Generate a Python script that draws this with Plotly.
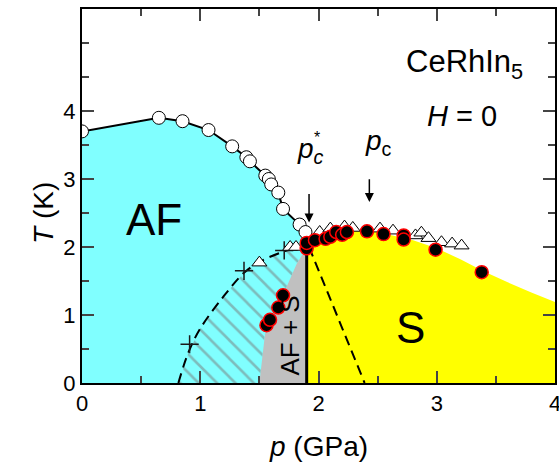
import plotly.graph_objects as go

# ---- data ----
af_p = [0.0, 0.65, 0.85, 1.07, 1.27, 1.39, 1.42, 1.55, 1.58, 1.60, 1.66, 1.70, 1.84, 1.89]
af_T = [3.70, 3.90, 3.85, 3.72, 3.48, 3.32, 3.26, 3.05, 3.00, 2.92, 2.80, 2.56, 2.33, 2.22]

sc_p = [1.56, 1.59, 1.66, 1.70, 1.90, 1.90, 1.97, 2.06, 2.10, 2.15, 2.20, 2.24, 2.41, 2.55, 2.72, 2.72, 2.99, 3.38]
sc_T = [0.85, 0.93, 1.11, 1.29, 1.98, 2.06, 2.10, 2.12, 2.15, 2.22, 2.18, 2.22, 2.23, 2.19, 2.17, 2.11, 1.96, 1.63]

tri_p = [1.50, 1.76, 1.81, 2.01, 2.10, 2.22, 2.29, 2.52, 2.63, 2.82, 2.87, 2.93, 3.04, 3.13, 3.21]
tri_T = [1.77, 2.00, 2.00, 2.22, 2.27, 2.30, 2.28, 2.27, 2.24, 2.17, 2.21, 2.13, 2.07, 2.05, 2.02]

plus_p = [0.91, 1.37, 1.71]
plus_T = [0.57, 1.65, 1.95]

# region boundaries
cyan_p = [0.0] + af_p + [1.90, 1.90]
cyan_T = [0.0] + af_T + [2.0, 0.0]

dash1_p = [0.815, 0.90, 1.00, 1.20, 1.37, 1.50, 1.70, 1.85]
dash1_T = [0.0, 0.45, 0.80, 1.28, 1.62, 1.78, 1.93, 2.00]

gray_p = [1.50, 1.548, 1.632, 1.73, 1.815, 1.886, 1.90, 1.90]
gray_T = [0.0, 0.725, 1.02, 1.41, 1.75, 1.95, 2.0, 0.0]

hatch_p = dash1_p + gray_p[::-1][2:]
hatch_T = dash1_T + gray_T[::-1][2:]

yel_p = [1.90, 1.90, 2.0, 2.2, 2.5, 2.8, 3.0, 3.2, 3.4, 3.6, 3.8, 4.0, 4.0]
yel_T = [0.0, 2.0, 2.15, 2.25, 2.22, 2.10, 1.98, 1.82, 1.64, 1.48, 1.33, 1.19, 0.0]

dash2_p = [1.92, 2.39]
dash2_T = [2.0, 0.0]

vline_p = [1.90, 1.90]
vline_T = [0.0, 2.02]

x_ticks = [0, 1, 2, 3, 4]
x_minor = [0.5, 1.5, 2.5, 3.5]
y_ticks = [0, 1, 2, 3, 4]
y_minor = [0.5, 1.5, 2.5, 3.5, 4.5, 5.0]

FONT = "Liberation Sans, Arial, sans-serif"
CYAN = "#80FFFF"
YELLOW = "#FFFF00"
GRAY = "#C0C0C0"

fig = go.Figure()

fig.add_trace(go.Scatter(x=cyan_p, y=cyan_T, fill="toself", fillcolor=CYAN,
                         mode="none", hoverinfo="skip", showlegend=False))
fig.add_trace(go.Scatter(x=hatch_p, y=hatch_T, fill="toself", fillcolor=CYAN,
                         fillpattern=dict(shape="\\", fgcolor="#7a7a7a", bgcolor=CYAN,
                                          size=13, solidity=0.2),
                         mode="none", hoverinfo="skip", showlegend=False))
fig.add_trace(go.Scatter(x=gray_p, y=gray_T, fill="toself", fillcolor=GRAY,
                         mode="none", hoverinfo="skip", showlegend=False))
fig.add_trace(go.Scatter(x=yel_p, y=yel_T, fill="toself", fillcolor=YELLOW,
                         mode="none", hoverinfo="skip", showlegend=False))

fig.add_trace(go.Scatter(x=dash1_p, y=dash1_T, mode="lines", line=dict(color="black", width=2, dash="10px,6px"),
                         line_shape="spline", hoverinfo="skip", showlegend=False))
fig.add_trace(go.Scatter(x=dash2_p, y=dash2_T, mode="lines", line=dict(color="black", width=2, dash="10px,6px"),
                         hoverinfo="skip", showlegend=False))
fig.add_trace(go.Scatter(x=vline_p, y=vline_T, mode="lines", line=dict(color="black", width=3),
                         hoverinfo="skip", showlegend=False))

fig.add_trace(go.Scatter(x=af_p, y=af_T, mode="lines+markers",
                         line=dict(color="black", width=2),
                         marker=dict(symbol="circle", size=13, color="white", line=dict(color="black", width=1)),
                         showlegend=False))
fig.add_trace(go.Scatter(x=plus_p, y=plus_T, mode="markers",
                         marker=dict(symbol="cross-thin", size=13, line=dict(color="#1a1a1a", width=1.5)),
                         showlegend=False))
fig.add_trace(go.Scatter(x=tri_p, y=tri_T, mode="markers",
                         marker=dict(symbol="triangle-up", size=13, color="white", line=dict(color="black", width=1)),
                         showlegend=False))
fig.add_trace(go.Scatter(x=sc_p, y=sc_T, mode="markers",
                         marker=dict(symbol="circle", size=13, color="black", line=dict(color="#ff0000", width=1.5)),
                         showlegend=False))

annots = [
    dict(x=0.61, y=2.40, text="AF", font=dict(size=44)),
    dict(x=2.78, y=0.81, text="S", font=dict(size=44)),
    dict(x=1.76, y=0.70, text="AF + S", font=dict(size=26), textangle=-90),
    dict(x=2.72, y=4.69, text="CeRhIn<sub>5</sub>", font=dict(size=31), xanchor="left"),
    dict(x=3.21, y=3.93, text="<i>H</i> = 0", font=dict(size=29)),
    dict(x=1.80, y=3.42, text="<i>p</i><sub><i>c</i></sub>", font=dict(size=28), xanchor="left"),
    dict(x=1.985, y=3.61, text="*", font=dict(size=16)),
    dict(x=2.376, y=3.54, text="<i>p</i><sub>c</sub>", font=dict(size=28), xanchor="left"),
]
for a in annots:
    a.setdefault("showarrow", False)
    a["font"] = dict(family=FONT, color="black", **a["font"])
    fig.add_annotation(**a)

for (px, top, head) in [(1.92, 2.80, 2.36), (2.43, 3.02, 2.66)]:
    fig.add_annotation(x=px, y=head, ax=px, ay=top, axref="x", ayref="y", text="",
                       showarrow=True, arrowhead=2, arrowsize=1.2, arrowwidth=1.5, arrowcolor="black")

# axis titles
fig.add_annotation(x=-0.118, y=0.454, xref="paper", yref="paper", text="<i>T</i> (K)", textangle=-90,
                   showarrow=False, font=dict(family=FONT, size=28, color="black"))
fig.add_annotation(x=0.5, y=-0.17, xref="paper", yref="paper", text="<i>p</i> (GPa)",
                   showarrow=False, font=dict(family=FONT, size=28, color="black"), yanchor="middle")

fig.update_layout(
    width=559, height=462,
    margin=dict(l=82, r=4, t=9, b=79, autoexpand=False),
    paper_bgcolor="white", plot_bgcolor="white",
    font=dict(family=FONT, size=22, color="black"),
    xaxis=dict(range=[0, 4], tickvals=x_ticks, ticks="inside", ticklen=12, tickwidth=2,
               showline=True, linewidth=2, linecolor="black", mirror="ticks",
               showgrid=False, zeroline=False, tickfont=dict(size=22), automargin=False,
               ticklabeloverflow="allow",
               minor=dict(tickvals=x_minor, ticks="inside", ticklen=7, tickwidth=2, showgrid=False)),
    yaxis=dict(range=[0, 5.5], tickvals=y_ticks, ticks="inside", ticklen=12, tickwidth=2,
               showline=True, linewidth=2, linecolor="black", mirror="ticks",
               showgrid=False, zeroline=False, tickfont=dict(size=22), automargin=False,
               ticklabeloverflow="allow",
               minor=dict(tickvals=y_minor, ticks="inside", ticklen=7, tickwidth=2, showgrid=False)),
)

fig.write_html("out.html", config={"displayModeBar": False})

# remove the default page margin so the figure sits at the window's top-left corner
with open("out.html", "r", encoding="utf-8") as f:
    html = f.read()
html = html.replace("<head>", "<head><style>html,body{margin:0;padding:0;overflow:hidden;}</style>", 1)
with open("out.html", "w", encoding="utf-8") as f:
    f.write(html)
